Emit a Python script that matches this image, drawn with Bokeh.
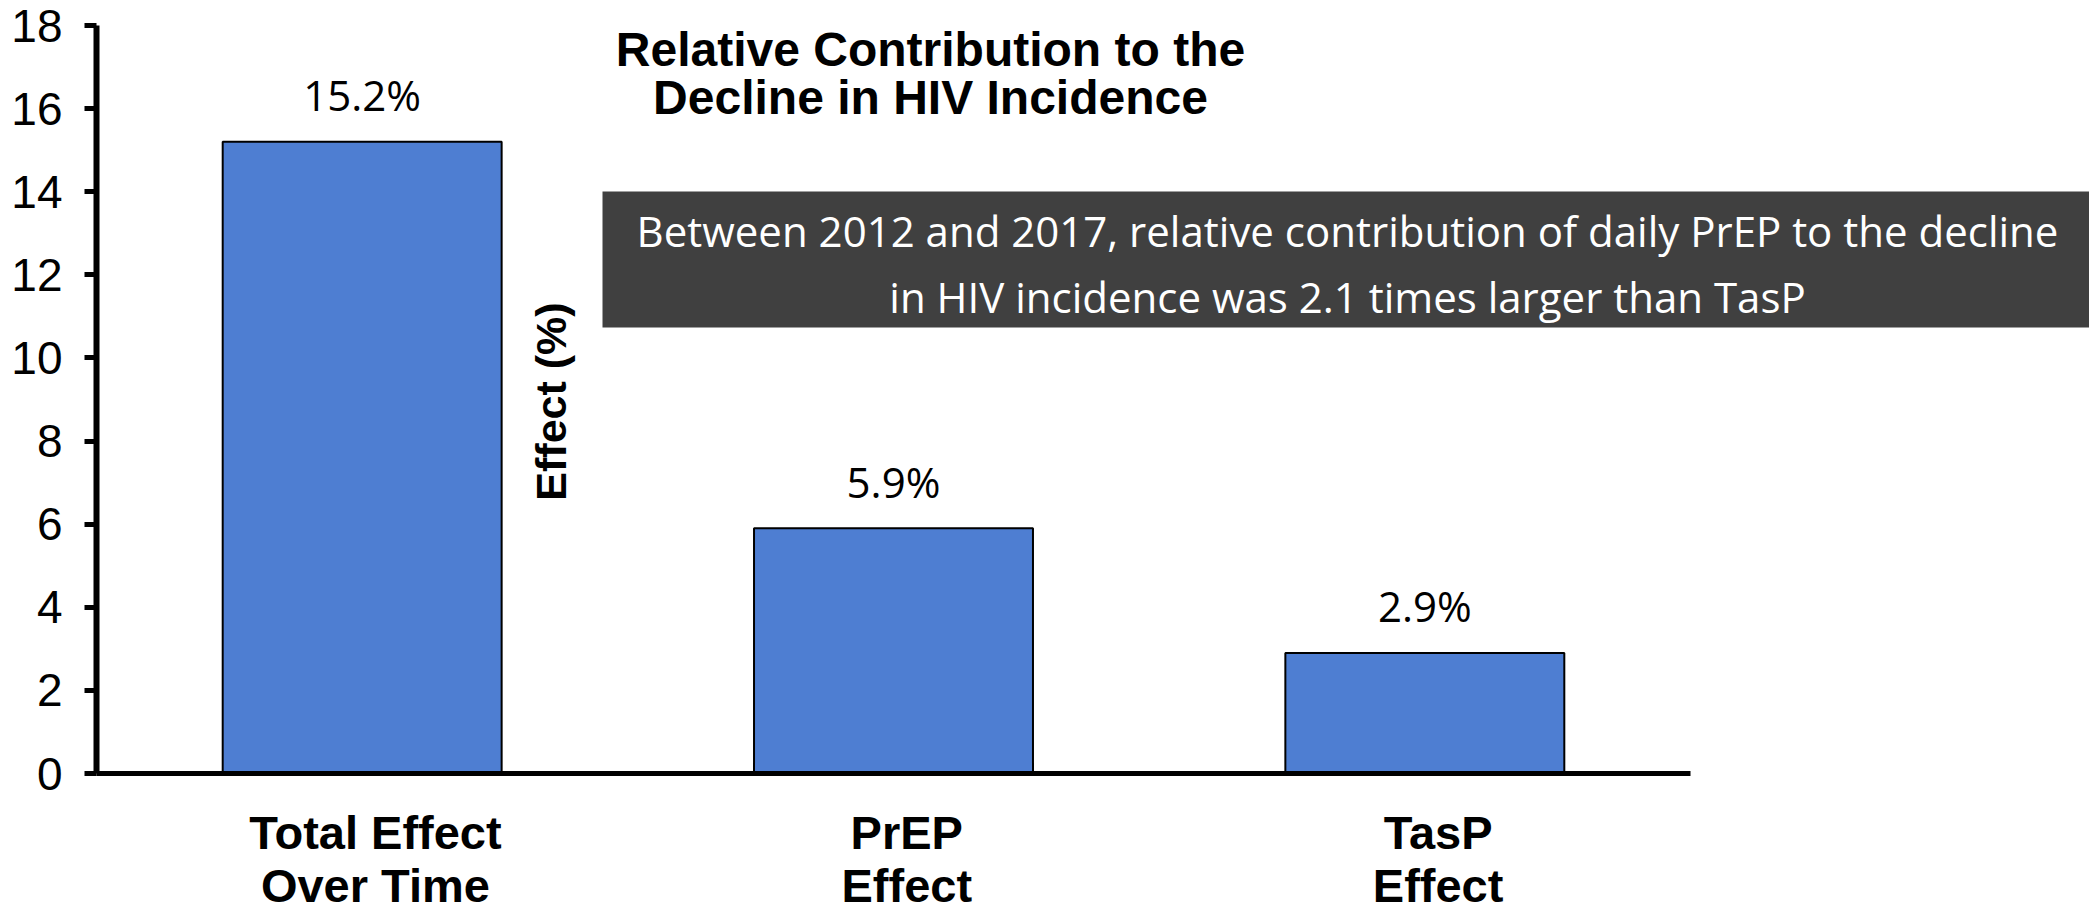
from bokeh.plotting import figure
from bokeh.models import Range1d, FixedTicker, Label, BoxAnnotation, ColumnDataSource
from bokeh.core.properties import value
from bokeh.embed import file_html
from bokeh.resources import INLINE

# ---- data ----
categories = ["Total Effect\nOver Time", "PrEP\nEffect", "TasP\nEffect"]
effect_pct = [15.2, 5.9, 2.9]
value_labels = ["15.2%", "5.9%", "2.9%"]
y_ticks = [0, 2, 4, 6, 8, 10, 12, 14, 16, 18]

title_lines = ["Relative Contribution to the", "Decline in HIV Incidence"]
note_lines = ["Between 2012 and 2017, relative contribution of daily PrEP to the decline",
              "in HIV incidence was 2.1 times larger than TasP"]
axis_title = "Effect (%)"

# ---- layout constants ----
W, H = 2089, 914
LEFT, TOP, BOTTOM = 96, 25, 141
N = len(categories)
X_END = N * (W - LEFT) / 1594.0          # frame extends past the last category
Y_MAX = 18

BAR_COLOR = "#4E7ED2"
ARIAL = "Liberation Sans"
BODY = "Open Sans"

positions = [i + 0.5 for i in range(N)]
label_positions = [x + 0.025 for x in positions]   # category text sits a bit right of bar centre
src = ColumnDataSource(dict(x=positions, top=effect_pct, label=value_labels))

p = figure(width=W, height=H, output_backend="svg", toolbar_location=None,
           x_range=Range1d(0, X_END), y_range=Range1d(0, Y_MAX),
           min_border_left=LEFT, min_border_right=0,
           min_border_top=TOP, min_border_bottom=BOTTOM,
           x_axis_location="below", y_axis_location="left")
p.outline_line_color = None
p.xgrid.visible = False
p.ygrid.visible = False
p.background_fill_color = "white"
p.border_fill_color = "white"

# pixel -> data helpers for annotation placement
sx = (W - LEFT) / X_END
sy = (H - TOP - BOTTOM) / Y_MAX
def dx(px):
    return (px - LEFT) / sx
def dy(py):
    return (H - BOTTOM - py) / sy

# ---- axes ----
xa = p.xaxis[0]
xa.ticker = FixedTicker(ticks=label_positions)
xa.major_label_overrides = {pos: cat for pos, cat in zip(label_positions, categories)}
xa.bounds = (0, N)
xa.axis_line_width = 5
xa.axis_line_color = "black"
xa.major_tick_out = 0
xa.major_tick_in = 0
xa.minor_tick_out = 0
xa.minor_tick_in = 0
xa.major_label_standoff = 32
xa.major_label_text_font = ARIAL
xa.major_label_text_font_style = "bold"
xa.major_label_text_font_size = "47px"
xa.major_label_text_line_height = 1.0
xa.major_label_text_color = "black"

ya = p.yaxis[0]
ya.ticker = FixedTicker(ticks=y_ticks)
ya.axis_line_width = 6
ya.axis_line_color = "black"
ya.major_tick_out = 12
ya.major_tick_in = 0
ya.major_tick_line_width = 5
ya.minor_tick_out = 0
ya.minor_tick_in = 0
ya.major_label_standoff = 22
ya.major_label_text_font = ARIAL
ya.major_label_text_font_size = "46px"
ya.major_label_text_color = "black"

# ---- bars and value labels ----
p.vbar(x="x", top="top", width=0.525, source=src,
       fill_color=BAR_COLOR, line_color="black", line_width=2)
p.text(x="x", y="top", text="label", source=src, text_align="center",
       text_baseline="middle", y_offset=-47, text_font=value(BODY),
       text_font_size="42px", text_color="black")

# ---- chart title ----
for txt, py in zip(title_lines, [49, 97]):
    p.add_layout(Label(x=dx(930), y=dy(py), text=txt, text_align="center",
                       text_baseline="middle", text_font=ARIAL,
                       text_font_style="bold", text_font_size="48px",
                       text_color="black"))

# ---- rotated axis title ----
p.add_layout(Label(x=dx(550), y=dy(401), text=axis_title, angle=1.5707963,
                   text_align="center", text_baseline="middle", text_font=ARIAL,
                   text_font_style="bold", text_font_size="43px",
                   text_color="black"))

# ---- callout box ----
p.add_layout(BoxAnnotation(left=dx(602), right=dx(W + 5), top=dy(191), bottom=dy(327),
                           fill_color="#404040", fill_alpha=1.0, line_alpha=0))
for txt, py in zip(note_lines, [230, 296]):
    p.add_layout(Label(x=dx(1347), y=dy(py), text=txt, text_align="center",
                       text_baseline="middle", text_font=BODY,
                       text_font_size="42px", text_color="white"))

open("out.html", "w").write(file_html(p, INLINE))
